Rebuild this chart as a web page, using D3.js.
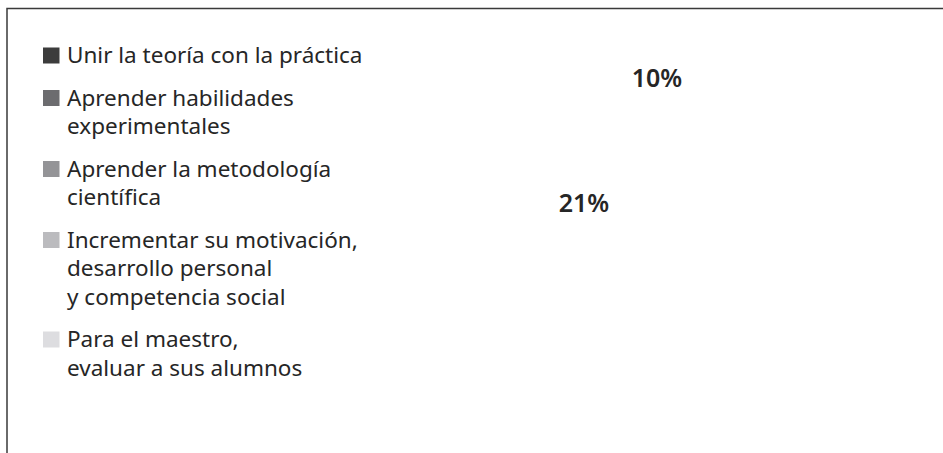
<!DOCTYPE html>
<html>
<head>
<meta charset="utf-8">
<script src="https://cdn.jsdelivr.net/npm/d3@7"></script>
<style>
  body { margin: 0; background: #fff; }
  text { font-family: "Noto Sans", "Open Sans", sans-serif; fill: #262626; }
</style>
</head>
<body>
<div id="chart"></div>
<script>
// Legend categories (each entry split into its printed lines)
const categories = [
    ["Unir la teoría con la práctica"],
    ["Aprender habilidades", "experimentales"],
    ["Aprender la metodología", "científica"],
    ["Incrementar su motivación,", "desarrollo personal", "y competencia social"],
    ["Para el maestro,", "evaluar a sus alumnos"]
];
const categoryColors = ["#3c3c3c", "#6c6c6f", "#949497", "#bbbbbe", "#dddde0"];

// Percentages that are printed on the chart
const shownValues = [10, 21];

const width = 943;
const height = 453;

const svg = d3.select("#chart")
    .append("svg")
    .attr("width", width)
    .attr("height", height);

// Frame (top and left edges only)
svg.append("path")
    .attr("d", `M7,${height} V8.5 H${width}`)
    .attr("fill", "none")
    .attr("stroke", "#3a3a3a")
    .attr("stroke-width", 1.5);

// Legend
const lineHeight = 28.5;
const itemGap = 14;
const fontSize = 22.5;

let y = 63;
const legend = svg.append("g").attr("class", "legend");
categories.forEach((lines, i) => {
    const g = legend.append("g").attr("transform", `translate(0,${y})`);
    g.append("rect")
        .attr("x", 43)
        .attr("y", -15.5)
        .attr("width", 16.5)
        .attr("height", 16)
        .attr("fill", categoryColors[i]);
    g.append("text")
        .attr("x", 67)
        .style("font-size", fontSize + "px")
        .selectAll("tspan")
        .data(lines)
        .join("tspan")
        .attr("x", 67)
        .attr("dy", (d, j) => j === 0 ? 0 : lineHeight)
        .text(d => d);
    y += lines.length * lineHeight + itemGap;
});

// Percentage labels
const labelPos = [[657, 87], [584, 212]];
svg.selectAll(".pct")
    .data(shownValues)
    .join("text")
    .attr("class", "pct")
    .attr("x", (d, i) => labelPos[i][0])
    .attr("y", (d, i) => labelPos[i][1])
    .attr("text-anchor", "middle")
    .style("font-size", "25px")
    .style("font-weight", 600)
    .text(d => d + "%");
</script>
</body>
</html>
